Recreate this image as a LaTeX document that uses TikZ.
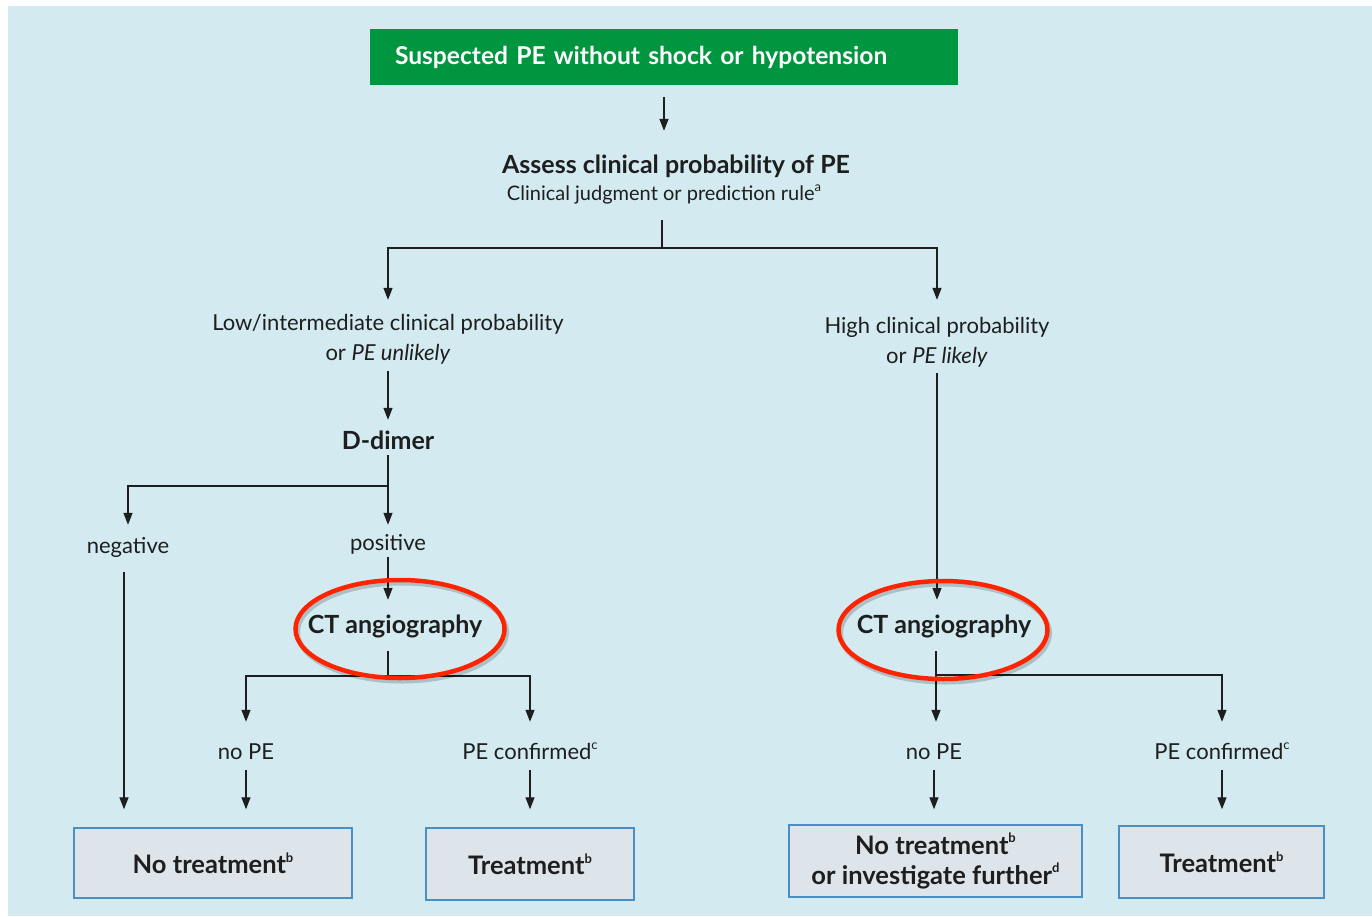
\documentclass[tikz,border=0pt]{standalone}
\usepackage{fontspec}
\setmainfont{Lato}
\usetikzlibrary{arrows.meta,shapes.geometric}
\definecolor{bgblue}{HTML}{D2EAF0}
\definecolor{pegreen}{HTML}{00953F}
\definecolor{boxfill}{HTML}{DDE4EA}
\definecolor{boxline}{HTML}{4A8FC4}
\definecolor{ringred}{HTML}{FF2400}
\definecolor{ink}{HTML}{1E1E1E}
\newcommand\fnm[1]{\raisebox{0.45em}{\fontsize{13}{13}\selectfont #1}}
\begin{document}
\begin{tikzpicture}[x=1pt,y=-1pt,
  lbl/.style={font=\fontsize{22}{30}\selectfont, text=ink, align=center, inner sep=0pt},
  one/.style={text height=16, text depth=5},
  hdr/.style={font=\bfseries\fontsize{25}{30}\selectfont, text=ink, align=center, inner sep=0pt, text height=18, text depth=6},
  endbox/.style={draw=boxline, line width=1.5pt, fill=boxfill, font=\bfseries\fontsize{25.5}{30}\selectfont, text=ink, align=center, inner sep=0pt},
  arr/.style={draw=ink, line width=1.4pt, -{Triangle[length=12pt,width=9pt]}},
  ln/.style={draw=ink, line width=1.4pt},
  ringshape/.style={draw=ringred, line width=4.5pt, ellipse, inner sep=0pt},
  ringshadow/.style={draw=black, opacity=0.18, line width=5pt, ellipse, inner sep=0pt}
]
\useasboundingbox (0,0) rectangle (1372,916);
\fill[white] (0,0) rectangle (1372,916);
\fill[bgblue] (8,6) rectangle (1372,916);

% nodes
\node[fill=pegreen, text=white, font=\bfseries\fontsize{24.6}{28}\selectfont,
      text width=538, align=left, inner xsep=25, inner ysep=0, minimum height=56] (start) at (664,57) {Suspected PE without shock or hypotension};
\node[hdr] (assess) at (676,167) {Assess clinical probability of PE};
\node[lbl, one, font=\fontsize{20}{30}\selectfont, text height=15] (judg) at (664,195) {Clinical judgment or prediction rule\fnm{a}};
\node[lbl] (low) at (388,339) {Low/intermediate clinical probability\\or \textit{PE unlikely}};
\node[lbl] (high) at (937,342) {High clinical probability\\or \textit{PE likely}};
\node[hdr] (ddimer) at (388,443) {D-dimer};
\node[lbl, one] (neg) at (128,548) {negative};
\node[lbl, one] (pos) at (388,545) {positive};
\node[hdr] (ct1) at (395,627) {CT angiography};
\node[hdr] (ct2) at (944,627) {CT angiography};
\node[lbl, one] (nope1) at (246,754) {no PE};
\node[lbl, one] (conf1) at (530,754) {PE confirmed\fnm{c}};
\node[lbl, one] (nope2) at (934,754) {no PE};
\node[lbl, one] (conf2) at (1222,754) {PE confirmed\fnm{c}};
\node[endbox, minimum width=278, minimum height=70] (notreat1) at (213,863) {No treatment\fnm{b}};
\node[endbox, minimum width=208, minimum height=72] (treat1) at (530,864) {Treatment\fnm{b}};
\node[endbox, minimum width=293, minimum height=72] (notreat2) at (935.5,861) {No treatment\fnm{b}\\or investigate further\fnm{d}};
\node[endbox, minimum width=205, minimum height=72] (treat2) at (1221.5,862) {Treatment\fnm{b}};

\coordinate (split) at (662,248);
\coordinate (dsplit) at (388,486);
\coordinate (c1split) at (388,676);
\coordinate (c2split) at (936,675);

% connectors
\draw[arr, shorten <=12, shorten >=24] (start.south) -- (start.south |- assess.north);
\draw[ln, shorten <=15] (judg.south -| split) -- (split);
\draw[arr, shorten >=14] (split) -| (low.north);
\draw[arr, shorten >=17] (split) -| (high.north);
\draw[arr, shorten <=7, shorten >=11] (low.south) -- (low.south |- ddimer.north);
\draw[arr, shorten >=9.5] (ddimer.south) -- (pos.north);
\draw[arr, shorten >=12.5] (dsplit) -| (neg.north);
\draw[arr, shorten <=1.5, shorten >=15] (pos.south) -- (pos.south |- ct1.north);
\draw[ln, shorten <=12] (c1split |- ct1.south) -- (c1split);
\draw[arr, shorten >=21.5] (c1split) -| (nope1.north);
\draw[arr, shorten >=21.5] (c1split) -| (conf1.north);
\draw[arr, shorten <=5.5, shorten >=18] (nope1.south) -- (nope1.south |- notreat1.north);
\draw[arr, shorten <=5.5, shorten >=18] (conf1.south) -- (conf1.south |- treat1.north);
\draw[arr, shorten <=13.5, shorten >=18] ([xshift=-4]neg.south) -- ([xshift=-4]neg.south |- notreat1.north);
\draw[arr, shorten <=6, shorten >=15] (high.south) -- (high.south |- ct2.north);
\draw[arr, shorten <=12, shorten >=21.5] (c2split |- ct2.south) -- (c2split |- nope2.north);
\draw[arr, shorten >=21.5] (c2split) -| (conf2.north);
\draw[arr, shorten <=5.5, shorten >=15] (nope2.south) -- (nope2.south |- notreat2.north);
\draw[arr, shorten <=5.5, shorten >=16] (conf2.south) -- (conf2.south |- treat2.north);

% red rings
\node[ringshadow, minimum width=209, minimum height=98] (ring1s) at (402,632) {};
\node[ringshape, minimum width=209, minimum height=98] (ring1) at (400,629) {};
\node[ringshadow, minimum width=209, minimum height=98] (ring2s) at (945,633) {};
\node[ringshape, minimum width=209, minimum height=98] (ring2) at (943,630) {};
\end{tikzpicture}
\end{document}
